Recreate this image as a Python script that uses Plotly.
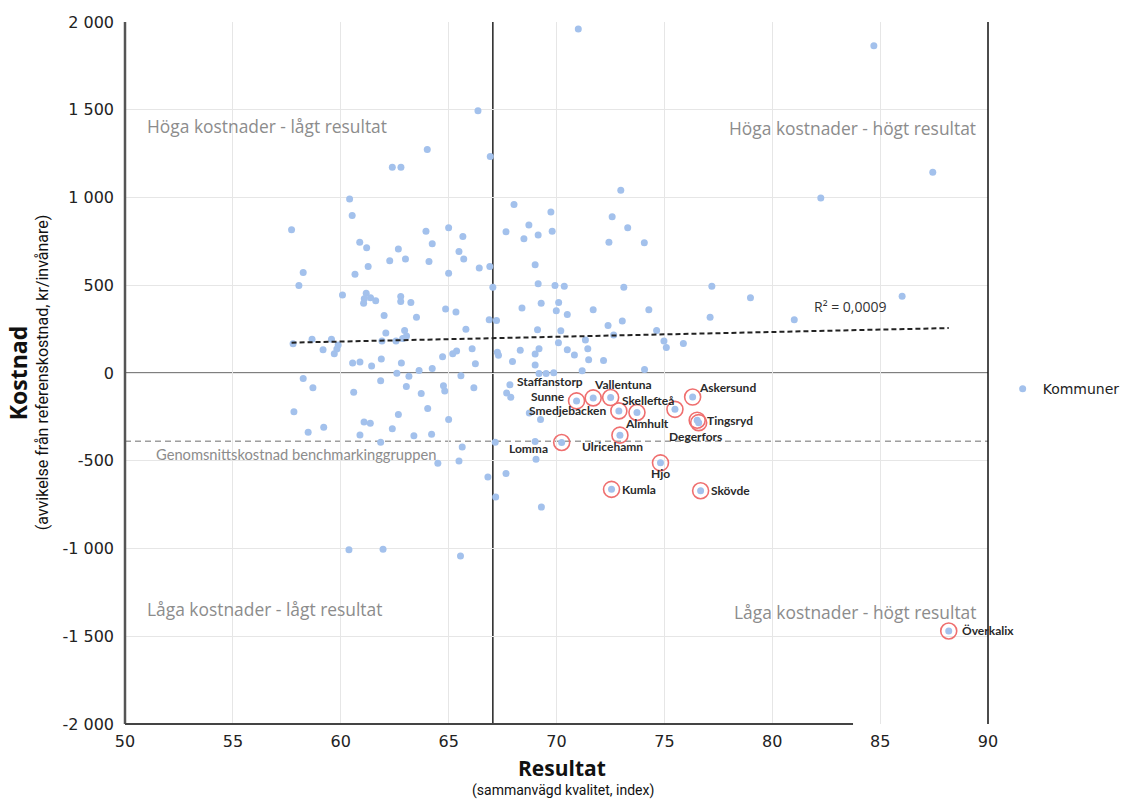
import plotly.graph_objects as go

# ---------------- data ----------------
kommun_x = [
    57.72, 58.26, 58.06, 60.41, 60.53, 60.88, 61.20, 61.27, 60.66, 60.08,
    61.18, 61.09, 61.06, 61.38, 61.62, 58.67, 59.57, 57.79, 59.88, 59.82,
    59.70, 59.18, 60.55, 60.89, 58.26, 72.98, 68.03, 69.74, 72.58, 68.72,
    73.30, 69.80, 63.95, 65.00, 67.66, 65.66, 69.15, 68.49, 72.43, 74.07,
    64.24, 62.67, 65.48, 62.27, 63.00, 64.09, 65.70, 69.01, 66.42, 66.91,
    65.00, 69.15, 69.93, 70.36, 67.05, 73.12, 62.78, 62.78, 63.25, 62.01,
    63.51, 64.86, 65.34, 68.40, 69.29, 70.10, 69.99, 70.50, 71.70, 74.28,
    66.88, 67.22, 72.39, 73.05, 65.80, 62.96, 63.05, 62.87, 62.09, 61.91,
    62.56, 69.12, 70.20, 72.65, 74.64, 71.34, 70.09, 71.45, 70.50, 70.83,
    71.49, 72.18, 69.19, 69.01, 68.32, 67.96, 69.01, 66.09, 65.37, 65.19,
    64.72, 67.26, 67.31, 66.24, 64.24, 63.63, 62.81, 61.88, 61.43, 62.60,
    63.16, 65.57, 69.19, 69.52, 69.87, 71.19, 74.08, 61.85, 66.36, 64.01,
    62.39, 62.79, 66.93, 71.01, 77.20, 78.99, 77.12, 81.02, 86.02, 74.98,
    75.09, 75.88, 84.71, 87.44, 82.25, 58.71, 63.04, 64.76, 64.82, 66.17,
    60.60, 63.73, 67.84, 67.69, 67.88, 57.83, 59.21, 58.49, 61.08, 61.37,
    62.67, 64.03, 65.00, 62.39, 60.89, 63.39, 64.21, 61.85, 68.74, 69.26,
    67.16, 69.01, 65.63, 64.50, 65.48, 66.82, 67.66, 67.18, 69.30, 69.05,
    60.38, 61.96, 65.55,
]
kommun_y = [
    816, 573, 499, 992, 897, 745, 714, 607, 562, 444,
    455, 423, 397, 429, 412, 192, 192, 166, 160, 137,
    109, 133, 57, 63, -31, 1042, 960, 917, 890, 844,
    827, 808, 808, 827, 805, 778, 786, 765, 745, 742,
    737, 706, 692, 640, 649, 636, 649, 617, 599, 607,
    568, 509, 499, 495, 488, 488, 436, 408, 401, 327,
    317, 364, 348, 370, 398, 402, 354, 334, 361, 361,
    304, 299, 271, 296, 250, 242, 211, 196, 228, 182,
    183, 247, 241, 216, 242, 188, 173, 138, 133, 102,
    75, 71, 138, 108, 129, 65, 45, 138, 125, 109,
    92, 118, 101, 53, 26, 14, 57, 80, 40, -1,
    -18, -16, -3, -3, 2, 13, 20, -44, 1495, 1273,
    1172, 1173, 1233, 1960, 495, 429, 317, 304, 438, 183,
    146, 168, 1865, 1144, 997, -84, -77, -72, -103, -84,
    -110, -117, -67, -114, -138, -221, -309, -337, -279, -286,
    -237, -202, -265, -318, -353, -358, -349, -394, -228, -265,
    -395, -390, -421, -514, -501, -592, -572, -707, -764, -492,
    -1007, -1004, -1043,
]

label_names = ["Sunne", "Staffanstorp", "Vallentuna", "Smedjebacken", "Almhult",
               "Skellefteå", "Askersund", "Tingsryd", "Degerfors", "Ulricehamn",
               "Lomma", "Hjo", "Kumla", "Skövde", "Överkalix"]
label_x = [70.93, 71.70, 72.51, 72.89, 73.73, 75.49, 76.31, 76.52, 76.59, 72.94,
           70.24, 74.82, 72.55, 76.68, 88.18]
label_y = [-159, -142, -140, -216, -225, -207, -137, -269, -283, -354,
           -396, -512, -663, -671, -1470]

trend_x = [57.72, 88.18]
trend_y = [173, 256]
r2_text = "R² = 0,0009"
r2_pos = (83.6, 380)

avg_result = 67.05      # benchmarking group, result
avg_cost = -389         # benchmarking group, cost

x_ticks = [50, 55, 60, 65, 70, 75, 80, 85, 90]
y_ticks = [-2000, -1500, -1000, -500, 0, 500, 1000, 1500, 2000]
y_tick_text = ["-2 000", "-1 500", "-1 000", "-500", "0", "500", "1 000", "1 500", "2 000"]

# ---------------- styles ----------------
# label text offsets (pixels) relative to the circled point
label_dx = [-29, -43, 12, -51, 10, -27, 35, 33, -3, -7, -33, 0, 27, 30, 39]
label_dy = [4, 16, 13, 0, -11, 9, 10, 0, -14, -11, -6, -11, 0, 0, 0]

BLUE = "#a3c1ec"
RED = "#ef6f6f"
TICKFONT = dict(family="DejaVu Sans", size=16, color="#222222")
QFONT = dict(family="Open Sans", size=17.4, color="#8c8c8c")

fig = go.Figure()

fig.add_trace(go.Scatter(
    x=kommun_x + label_x, y=kommun_y + label_y,
    mode="markers", name="Kommuner",
    marker=dict(color=BLUE, size=7, line=dict(width=0)),
    hoverinfo="skip",
))
fig.add_trace(go.Scatter(
    x=label_x, y=label_y, mode="markers", showlegend=False,
    marker=dict(symbol="circle-open", size=16, color=RED, line=dict(width=1.6, color=RED)),
    hoverinfo="skip",
))
fig.add_trace(go.Scatter(
    x=trend_x, y=trend_y, mode="lines", showlegend=False,
    line=dict(color="#222222", width=2, dash="5px,3px"),
    hoverinfo="skip",
))

shapes = [
    dict(type="line", xref="paper", x0=0, x1=1, yref="y", y0=0, y1=0,
         line=dict(color="#555555", width=1.5), layer="between"),
    dict(type="line", xref="paper", x0=0, x1=1, yref="y", y0=avg_cost, y1=avg_cost,
         line=dict(color="#9e9e9e", width=1.6, dash="6px,4px"), layer="between"),
    dict(type="line", xref="x", x0=avg_result, x1=avg_result, yref="paper", y0=0, y1=1,
         line=dict(color="#222222", width=1.5), layer="between"),
    dict(type="line", xref="paper", x0=0, x1=0, yref="paper", y0=0, y1=1,
         line=dict(color="#555555", width=2.5), layer="above"),
    dict(type="line", xref="paper", x0=1, x1=1, yref="paper", y0=0, y1=1,
         line=dict(color="#111111", width=1.5), layer="above"),
    dict(type="line", xref="paper", x0=0, x1=0.8436, yref="paper", y0=0, y1=0,
         line=dict(color="#444444", width=2), layer="above"),
]

annotations = []
for n, x, y, dx, dy in zip(label_names, label_x, label_y, label_dx, label_dy):
    annotations.append(dict(x=x, y=y, xref="x", yref="y", text=n, showarrow=False,
                            xshift=dx, yshift=dy,
                            font=dict(family="Lato", size=12, color="#2a2a2a", weight="bold")))

annotations += [
    dict(x=0.023, y=0.852, xref="paper", yref="paper", xanchor="left", yanchor="middle",
         text="Höga kostnader - lågt resultat", showarrow=False, font=QFONT),
    dict(x=0.988, y=0.849, xref="paper", yref="paper", xanchor="right", yanchor="middle",
         text="Höga kostnader - högt resultat", showarrow=False, font=QFONT),
    dict(x=0.023, y=0.164, xref="paper", yref="paper", xanchor="left", yanchor="middle",
         text="Låga kostnader - lågt resultat", showarrow=False, font=QFONT),
    dict(x=0.988, y=0.160, xref="paper", yref="paper", xanchor="right", yanchor="middle",
         text="Låga kostnader - högt resultat", showarrow=False, font=QFONT),
    dict(x=0.034, y=avg_cost, xref="paper", yref="y", xanchor="left", yanchor="middle",
         yshift=-13, text="Genomsnittskostnad benchmarkinggruppen", showarrow=False,
         font=dict(family="Lato", size=14.7, color="#8c8c8c")),
    dict(x=r2_pos[0], y=r2_pos[1], xref="x", yref="y", text=r2_text, showarrow=False,
         font=dict(family="Open Sans", size=14, color="#333333")),
    dict(x=0.506, y=-0.0627, xref="paper", yref="paper", yanchor="middle",
         text="<b>Resultat</b>", showarrow=False,
         font=dict(family="Open Sans", size=21, color="#111111")),
    dict(x=0.508, y=-0.0954, xref="paper", yref="paper", yanchor="middle",
         text="(sammanvägd kvalitet, index)", showarrow=False,
         font=dict(family="Roboto", size=14, color="#111111")),
    dict(x=-0.124, y=0.501, xref="paper", yref="paper", xanchor="center", yanchor="middle",
         text="<b>Kostnad</b>", showarrow=False, textangle=-90,
         font=dict(family="Open Sans", size=23, color="#111111")),
    dict(x=-0.0962, y=0.501, xref="paper", yref="paper", xanchor="center", yanchor="middle",
         text="(avvikelse från referenskostnad, kr/invånare)", showarrow=False, textangle=-90,
         font=dict(family="Roboto", size=16, color="#111111")),
]

fig.update_layout(
    width=1131, height=802,
    margin=dict(l=125, r=143, t=22, b=78, autoexpand=False),
    paper_bgcolor="white", plot_bgcolor="white",
    shapes=shapes, annotations=annotations,
    showlegend=True,
    legend=dict(x=1.017, y=0.477, xanchor="left", yanchor="middle",
                font=dict(family="DejaVu Sans", size=14, color="#222222"),
                bgcolor="rgba(0,0,0,0)"),
    xaxis=dict(range=[50, 90], tickvals=x_ticks, ticktext=[str(v) for v in x_ticks],
               showgrid=True, gridcolor="#e6e6e6", gridwidth=1, zeroline=False,
               showline=False, ticks="", tickfont=TICKFONT, ticklabelstandoff=6),
    yaxis=dict(range=[-2000, 2000], tickvals=y_ticks, ticktext=y_tick_text,
               showgrid=True, gridcolor="#e6e6e6", gridwidth=1, zeroline=False,
               showline=False, ticks="", tickfont=TICKFONT, ticklabelstandoff=10),
)

fig.write_html("out.html", config={"displayModeBar": False},
               post_script="document.body.style.margin='0px';document.body.style.overflow='hidden';")
